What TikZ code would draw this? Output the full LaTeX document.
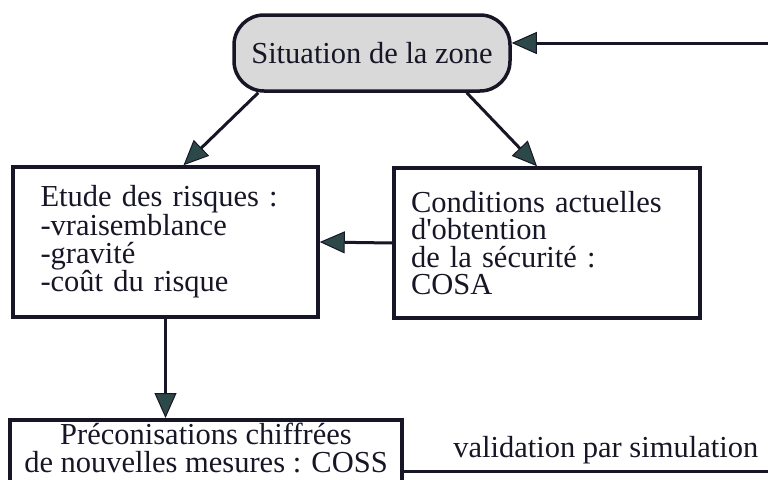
\documentclass[tikz,border=0pt]{standalone}
\usepackage{fontspec}
\setmainfont{Liberation Serif}
\usetikzlibrary{arrows.meta,positioning}
\definecolor{headfill}{RGB}{45,72,72}
\definecolor{ink}{RGB}{22,22,38}

\begin{document}
\begin{tikzpicture}[x=1pt,y=-1pt,
  box/.style={draw=ink,line width=3.5pt,rectangle,inner sep=0pt},
  arr/.style={draw=ink,line width=3pt,-{Triangle[length=25pt,width=22pt,line width=1pt,fill=headfill]}},
  txt/.style={text=ink,font=\fontsize{30.5}{27.5}\selectfont}]
\useasboundingbox (0,0) rectangle (768,479);
\clip (0,0) rectangle (768,479);

\coordinate (c0) at (372,53);
\coordinate (c1) at (165.5,242);
\coordinate (c2) at (547,243);
\coordinate (c3) at (206,418);
\coordinate (c4) at (790,471);
\coordinate (c5) at (790,43);

\node (zone) at (c0) [draw=ink,line width=3.5pt,rounded corners=30pt,fill=gray!30,minimum width=276pt,minimum height=76pt,inner sep=0pt,txt] {Situation de la zone};
\node (risques) at (c1) [box,minimum width=305pt,minimum height=150pt,text width=250pt,align=left,txt] {Etude des risques :\\-vraisemblance\\-gravité\\-coût du risque};
\node (cosa) at (c2) [box,minimum width=306pt,minimum height=150pt,text width=272pt,align=left,txt] {Conditions actuelles\\d\textquotesingle obtention\\de la sécurité :\\COSA};
\node (coss) at (c3) [box,anchor=north,minimum width=392pt,inner ysep=3.5pt,text depth=100pt,align=center,txt] {Préconisations chiffrées\\de nouvelles mesures : COSS};

\draw[arr] ([xshift=26pt]zone.south west) -- ([xshift=18pt]risques.north);
\draw[arr] ([xshift=-45pt]zone.south east) -- ([xshift=-10pt]cosa.north);
\draw[arr] (cosa.west) -- (risques.east);
\draw[arr] (risques.south) -- (risques.south |- coss.north);

\draw[draw=ink,line width=3pt] (coss.east |- c4) -- node[pos=0.523,above=2pt,txt] {validation par simulation} (c4) -- (c5);
\draw[arr] (c5) -- ([yshift=10pt]zone.east);
\end{tikzpicture}
\end{document}
